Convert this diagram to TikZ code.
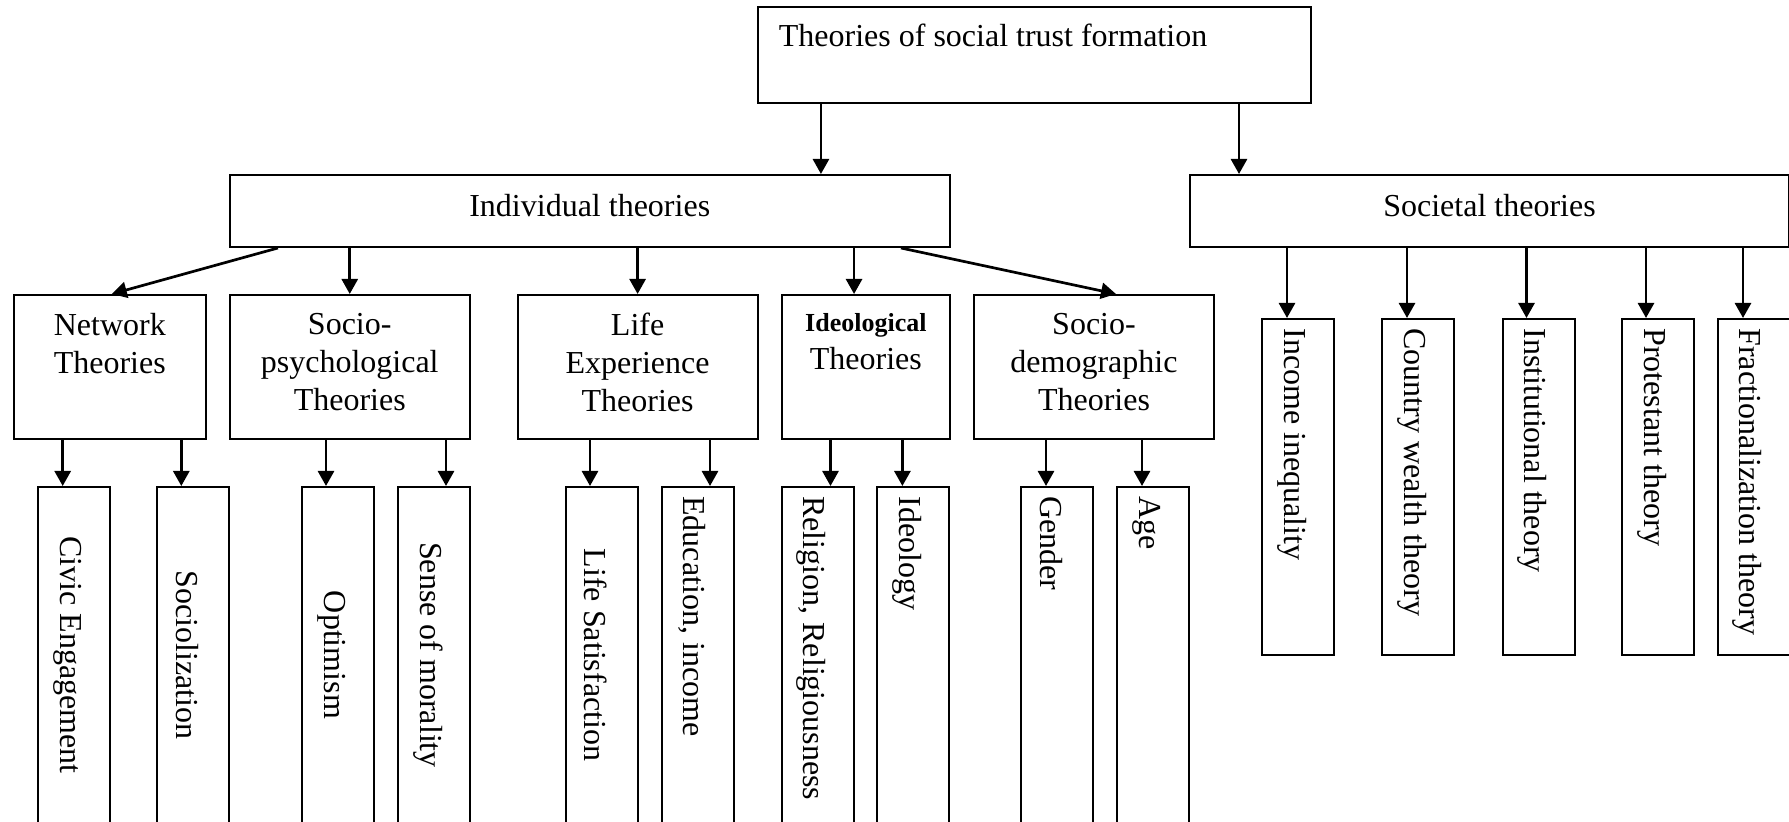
\documentclass[tikz,border=0pt]{standalone}
\usepackage{fontspec}
\setmainfont{Liberation Serif}
\usetikzlibrary{arrows.meta}

\begin{document}
\begin{tikzpicture}[x=0.5pt, y=-0.5pt,
  font=\fontsize{16}{19}\selectfont,
  box/.style={draw, line width=1pt, rectangle, inner sep=0pt, anchor=north west},
  vbox/.style={box, minimum width=36pt, minimum height=168pt},
  arr/.style={line width=1.35pt, -{Triangle[length=7.5pt,width=8pt]}},
  htxt/.style={inner sep=0pt, align=center, anchor=north, yshift=-9.4pt},
  vtxt/.style={inner sep=0pt, xshift=-3pt, rotate=-90},
  vtop/.style={vtxt, anchor=west, inner xsep=5pt},
]
\useasboundingbox (0,0) rectangle (1789,822);

% top level
\node[box, minimum width=276.5pt, minimum height=48pt,
  label={[anchor=base west, inner sep=0pt, xshift=11pt, yshift=-20.5pt]north west:Theories of social trust formation}] (root) at (756.5,6) {};

% second level
\node[box, minimum width=360.25pt, minimum height=36pt,
  label={[inner sep=0pt, yshift=2.5pt]center:Individual theories}] (ind) at (228.5,174) {};
\node[box, minimum width=299.5pt, minimum height=36pt,
  label={[inner sep=0pt, yshift=2.5pt]center:Societal theories}] (soc) at (1189,174) {};

% groups of individual theories
\node[box, minimum width=96.2pt, minimum height=72pt,
  label={[htxt]north:Network\\Theories}] (net) at (12.6,294) {};
\node[box, minimum width=120.25pt, minimum height=72pt,
  label={[htxt]north:Socio-\\psychological\\Theories}] (psy) at (228.5,294) {};
\node[box, minimum width=120pt, minimum height=72pt,
  label={[htxt]north:Life\\Experience\\Theories}] (life) at (516.6,294) {};
\node[box, minimum width=84.15pt, minimum height=72pt,
  label={[htxt]north:{\fontsize{13}{15}\selectfont\bfseries Ideological}\\Theories}] (ideo) at (780.7,294) {};
\node[box, minimum width=120pt, minimum height=72pt,
  label={[htxt]north:Socio-\\demographic\\Theories}] (demo) at (973,294) {};

% factors of individual theories
\node[vbox, label={[vtxt]center:Civic Engagement}] (civ) at (36.5,486) {};
\node[vbox, label={[vtxt]center:Sociolization}] (socz) at (156.3,486) {};
\node[vbox, label={[vtxt]center:Optimism}] (opt) at (301,486) {};
\node[vbox, label={[vtxt]center:Sense of morality}] (sense) at (397,486) {};
\node[vbox, label={[vtxt]center:Life Satisfaction}] (ls) at (565,486) {};
\node[vbox, label={[vtop]north:Education, income}] (edu) at (661,486) {};
\node[vbox, label={[vtop]north:Religion, Religiousness}] (rel) at (780.5,486) {};
\node[vbox, label={[vtop]north:Ideology}] (ideol) at (876,486) {};
\node[vbox, label={[vtop]north:Gender}] (gen) at (1020,486) {};
\node[vbox, label={[vtop]north:Age}] (age) at (1116,486) {};

% societal theories
\node[vbox, label={[vtop]north:Income inequality}] (inc) at (1261,318) {};
\node[vbox, label={[vtop]north:Country wealth theory}] (cw) at (1381,318) {};
\node[vbox, label={[vtop]north:Institutional theory}] (inst) at (1501.5,318) {};
\node[vbox, label={[vtop]north:Protestant theory}] (prot) at (1621,318) {};
\node[vbox, label={[vtop]north:Fractionalization theory}] (frac) at (1716.5,318) {};

% connectors
\draw[arr] ([xshift=115.6pt]ind.north |- root.south) -- ([xshift=115.6pt]ind.north);
\draw[arr] ([xshift=-125.25pt]soc.north |- root.south) -- ([xshift=-125.25pt]soc.north);

\draw[arr] ([xshift=-155.9pt]ind.south) -- ([xshift=1pt]net.north);
\draw[arr] (psy.north |- ind.south) -- (psy.north);
\draw[arr] (life.north |- ind.south) -- (life.north);
\draw[arr] ([xshift=-5.9pt]ideo.north |- ind.south) -- ([xshift=-5.9pt]ideo.north);
\draw[arr] ([xshift=155.6pt]ind.south) -- ([xshift=11pt]demo.north);

\draw[arr] ([xshift=-5.4pt]civ.north |- net.south) -- ([xshift=-5.4pt]civ.north);
\draw[arr] ([xshift=-6pt]socz.north |- net.south) -- ([xshift=-6pt]socz.north);
\draw[arr] ([xshift=-6pt]opt.north |- psy.south) -- ([xshift=-6pt]opt.north);
\draw[arr] ([xshift=6pt]sense.north |- psy.south) -- ([xshift=6pt]sense.north);
\draw[arr] ([xshift=-6pt]ls.north |- life.south) -- ([xshift=-6pt]ls.north);
\draw[arr] ([xshift=6pt]edu.north |- life.south) -- ([xshift=6pt]edu.north);
\draw[arr] ([xshift=6.5pt]rel.north |- ideo.south) -- ([xshift=6.5pt]rel.north);
\draw[arr] ([xshift=-5.3pt]ideol.north |- ideo.south) -- ([xshift=-5.3pt]ideol.north);
\draw[arr] ([xshift=-5.5pt]gen.north |- demo.south) -- ([xshift=-5.5pt]gen.north);
\draw[arr] ([xshift=-5.5pt]age.north |- demo.south) -- ([xshift=-5.5pt]age.north);

\draw[arr] ([xshift=-5.5pt]inc.north |- soc.south) -- ([xshift=-5.5pt]inc.north);
\draw[arr] ([xshift=-5.5pt]cw.north |- soc.south) -- ([xshift=-5.5pt]cw.north);
\draw[arr] ([xshift=-6pt]inst.north |- soc.south) -- ([xshift=-6pt]inst.north);
\draw[arr] ([xshift=-6pt]prot.north |- soc.south) -- ([xshift=-6pt]prot.north);
\draw[arr] ([xshift=-5.25pt]frac.north |- soc.south) -- ([xshift=-5.25pt]frac.north);
\end{tikzpicture}
\end{document}
